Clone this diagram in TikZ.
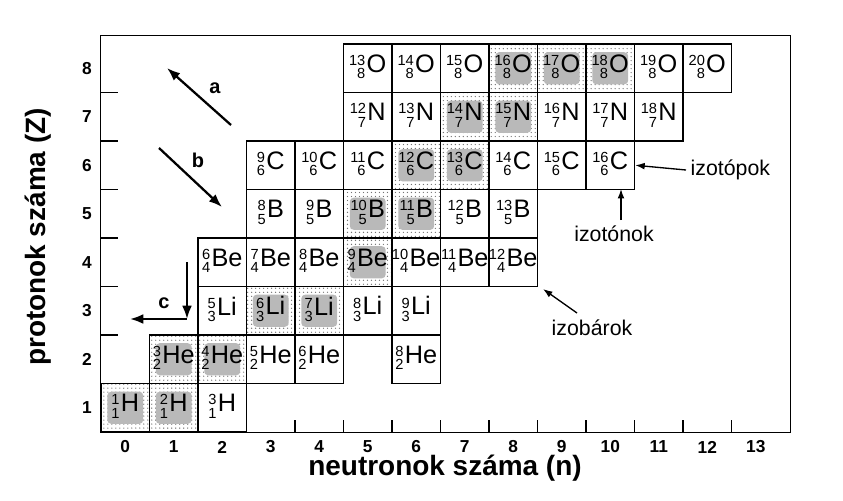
\documentclass[tikz,border=0pt]{standalone}
\usepackage{fontspec}
\setmainfont{Liberation Sans}
\usetikzlibrary{patterns,arrows.meta}
\newcommand\isot[3]{{\fontsize{11}{11}\selectfont\renewcommand\arraystretch{0.75}\begin{tabular}{@{}r@{}}#1\\#2\end{tabular}}\kern1pt{\fontsize{19}{19}\selectfont #3}}
\begin{document}
\begin{tikzpicture}[x=0.0264cm,y=-0.0264cm,
  cellbox/.style={draw,line width=1.1pt,minimum width=1.28cm,minimum height=1.28cm,inner sep=0pt},
  stab/.style={cellbox,fill=gray!18,pattern=dots,pattern color=gray!90!black},
  core/.style={fill=gray!55,rounded corners=3pt,minimum width=0.95cm,minimum height=0.85cm,inner sep=0pt},
  arr/.style={line width=1.7pt,-{Latex[length=3.5mm,width=2.6mm]}},
  sarr/.style={line width=1pt,-{Latex[length=2.5mm,width=1.8mm]}},
  lab/.style={font=\fontsize{16}{16}\selectfont},
  axnum/.style={font=\bfseries\fontsize{13}{13}\selectfont}]
\useasboundingbox (0,0) rectangle (843,500);
\node[draw,line width=1pt,minimum width=18.216cm,minimum height=10.48cm,anchor=north west,inner sep=0pt] (frame) at (100,35) {};
% ticks
\foreach \z in {1,...,7} \draw[line width=1pt] ({100},{432-48.5*\z}) -- ({118},{432-48.5*\z});
\foreach \n in {1,...,13} \draw[line width=1pt] ({101+48.5*\n},{432}) -- ({101+48.5*\n},{420});
% cells
\foreach \n/\z/\a/\s/\st in {
0/1/1/H/1,1/1/2/H/1,2/1/3/H/0,
1/2/3/He/1,2/2/4/He/1,3/2/5/He/0,4/2/6/He/0,6/2/8/He/0,
2/3/5/Li/0,3/3/6/Li/1,4/3/7/Li/1,5/3/8/Li/0,6/3/9/Li/0,
2/4/6/Be/0,3/4/7/Be/0,4/4/8/Be/0,5/4/9/Be/1,6/4/10/Be/0,7/4/11/Be/0,8/4/12/Be/0,
3/5/8/B/0,4/5/9/B/0,5/5/10/B/1,6/5/11/B/1,7/5/12/B/0,8/5/13/B/0,
3/6/9/C/0,4/6/10/C/0,5/6/11/C/0,6/6/12/C/1,7/6/13/C/1,8/6/14/C/0,9/6/15/C/0,10/6/16/C/0,
5/7/12/N/0,6/7/13/N/0,7/7/14/N/1,8/7/15/N/1,9/7/16/N/0,10/7/17/N/0,11/7/18/N/0,
5/8/13/O/0,6/8/14/O/0,7/8/15/O/0,8/8/16/O/1,9/8/17/O/1,10/8/18/O/1,11/8/19/O/0,12/8/20/O/0}{
  \ifnum\st=1
    \node[stab] (c\n-\z) at ({101+48.5*\n+24.25},{432-48.5*\z+24.25}) {};
    \node[core] at (c\n-\z) {};
  \else
    \node[cellbox] (c\n-\z) at ({101+48.5*\n+24.25},{432-48.5*\z+24.25}) {};
  \fi
  \node[inner sep=0pt] at (c\n-\z) {\isot{\a}{\z}{\s}};
}
% axis numbers
\foreach \n in {0,...,13} \node[axnum] (nx\n) at ({125.25+48.5*\n},{447}) {\n};
\foreach \z in {1,...,8} \node[axnum] (zy\z) at ({87},{456.25-48.5*\z}) {\z};
\node[font=\bfseries\fontsize{21}{21}\selectfont] (xl) at (445,468) {neutronok száma (n)};
\node[font=\bfseries\fontsize{21}{21}\selectfont,rotate=90] (yl) at (38,237) {protonok száma (Z)};
% arrows a b c
\coordinate (a1) at (231,125); \coordinate (a2) at (167,68);
\draw[arr] (a1) -- (a2);
\node[font=\bfseries\fontsize{15}{15}\selectfont] (la) at (215,88) {a};
\coordinate (b1) at (159,148); \coordinate (b2) at (222,207);
\draw[arr] (b1) -- (b2);
\node[font=\bfseries\fontsize{15}{15}\selectfont] (lb) at (198,160) {b};
\coordinate (c1) at (187,262); \coordinate (c2) at (187,319); \coordinate (c3) at (130,319);
\draw[arr] (c1) -- (c2);
\draw[arr] (c2) -- (c3);
\node[font=\bfseries\fontsize{15}{15}\selectfont] (lc) at (164,303) {c};
% right labels
\node[lab,anchor=west] (izt) at (686,170) {izotópok};
\draw[sarr] (izt.west) -- (c10-6.east);
\node[lab] (izn) at (614,234) {izotónok};
\coordinate (iznt) at (621,189);
\draw[sarr] (621,220) -- (iznt);
\node[lab] (izb) at (592,328) {izobárok};
\coordinate (izbt) at (543,289);
\draw[sarr] (577,313) -- (izbt);
\end{tikzpicture}
\end{document}
